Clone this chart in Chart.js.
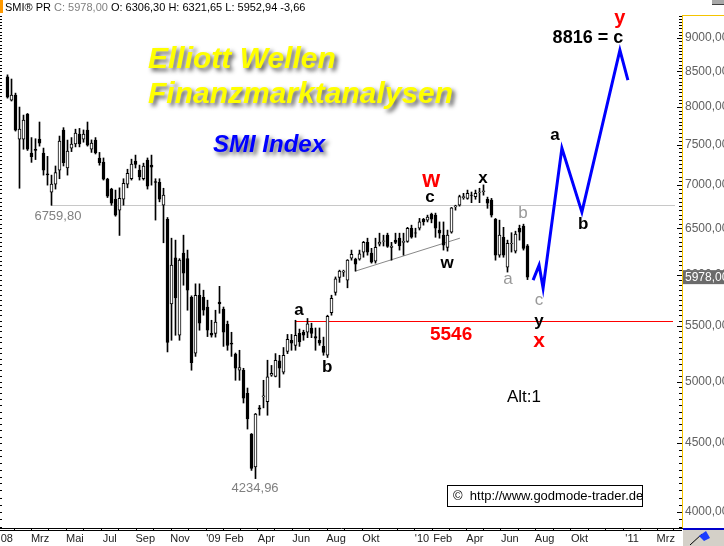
<!DOCTYPE html>
<html>
<head>
<meta charset="utf-8">
<script src="https://cdn.jsdelivr.net/npm/chart.js@4.4.0/dist/chart.umd.min.js"></script>
<style>
html, body { margin: 0; padding: 0; background: #fff; }
</style>
</head>
<body>
<canvas id="myChart" width="724" height="546"></canvas>
<script>
// weekly candles, first week ends 2008-01-04
var firstWeek = Date.UTC(2008, 0, 4);
var opens = [8420, 8093, 8163, 7570, 7570, 7900, 7390, 7440, 7570, 7390, 7135, 6913, 7009, 7179, 7688, 7205, 7455, 7507, 7635, 7570,
    7688, 7440, 7558, 7330, 7280, 7070, 6950, 6830, 6704, 6830, 7009, 7074, 7290, 7179, 7074, 7303, 7240, 7040, 7030, 6761,
    6600, 5710, 6180, 5412, 6230, 6170, 5775, 5250, 5796, 5775, 5680, 5430, 5430, 5728, 5660, 5515, 5340, 5240, 5098, 5098,
    4900, 4570, 4320, 4780, 4870, 4830, 5055, 5045, 5180, 5080, 5265, 5366, 5320, 5430, 5440, 5440, 5480, 5400, 5366, 5310,
    5230, 5625, 5825, 5975, 6030, 5947, 6175, 6165, 6165, 6240, 6345, 6230, 6143, 6325, 6355, 6423, 6290, 6369, 6390, 6345,
    6355, 6500, 6450, 6500, 6600, 6590, 6660, 6647, 6480, 6423, 6290, 6455, 6740, 6761, 6850, 6840, 6880, 6860, 6910, 6920,
    6830, 6820, 6600, 6207, 6400, 6080, 6330, 6250, 6500, 6525, 6306.30];
var highs = [8450, 8390, 8190, 7997, 7888, 7910, 7590, 7575, 7795, 7455, 7350, 7118, 7230, 7610, 7720, 7558, 7590, 7700, 7710, 7690,
    7795, 7560, 7590, 7400, 7330, 7080, 6960, 6938, 6965, 7074, 7190, 7315, 7366, 7241, 7265, 7330, 7366, 7074, 7074, 6960,
    6620, 6390, 6369, 6170, 6423, 6261, 5790, 5910, 5910, 5846, 5747, 5553, 5649, 5885, 5680, 5545, 5440, 5250, 5275, 5115,
    4945, 4575, 4735, 4800, 5011, 5186, 5140, 5245, 5230, 5300, 5420, 5420, 5553, 5470, 5459, 5570, 5525, 5480, 5480, 5395,
    5601, 5796, 5980, 6050, 6050, 6160, 6261, 6175, 6261, 6355, 6390, 6280, 6390, 6445, 6423, 6445, 6345, 6445, 6445, 6445,
    6510, 6534, 6500, 6610, 6610, 6647, 6670, 6670, 6570, 6570, 6479, 6735, 6761, 6878, 6900, 6938, 6915, 6938, 6960, 7000,
    6855, 6840, 6610, 6590, 6510, 6369, 6450, 6467, 6534, 6545, 6321.65];
var lows = [8120, 8080, 7675, 6960, 7440, 7425, 7275, 7310, 7480, 7118, 6997, 6760, 6950, 7074, 7230, 7118, 7410, 7470, 7470, 7530,
    7480, 7400, 7380, 7240, 7058, 6850, 6760, 6635, 6420, 6761, 6965, 7058, 7205, 7058, 7058, 6950, 6997, 6591, 6800, 6340,
    5260, 5366, 5412, 5366, 5896, 5649, 5098, 5220, 5459, 5601, 5400, 5395, 5395, 5620, 5310, 5275, 5220, 5011, 5011, 4820,
    4610, 4295, 4235, 4720, 4780, 4720, 5045, 5040, 4950, 5065, 5245, 5275, 5275, 5310, 5366, 5390, 5390, 5275, 5320, 5230,
    5210, 5601, 5796, 5925, 5985, 5870, 6154, 6040, 6154, 6185, 6207, 6123, 6123, 6305, 6305, 6290, 6154, 6330, 6261, 6207,
    6345, 6390, 6400, 6480, 6534, 6570, 6560, 6400, 6390, 6261, 6250, 6445, 6704, 6750, 6830, 6830, 6790, 6830, 6790, 6878,
    6725, 6625, 6154, 6185, 6185, 6030, 6240, 6230, 6369, 6261, 5952.94];
var closes = [8135, 8163, 7688, 7700, 7821, 7440, 7347, 7425, 7518, 7179, 7120, 7009, 7150, 7545, 7272, 7416, 7505, 7650, 7507, 7635,
    7493, 7520, 7392, 7270, 7070, 6865, 6785, 6647, 6840, 7020, 7140, 7255, 7250, 7095, 7230, 6985, 7215, 7030, 6830, 6878,
    5347, 6102, 5770, 6154, 6020, 5846, 5165, 5796, 5525, 5649, 5459, 5412, 5535, 5710, 5440, 5320, 5330, 5115, 5120, 4860,
    4690, 4310, 4730, 4770, 4880, 5040, 5070, 5186, 5115, 5230, 5375, 5340, 5412, 5350, 5412, 5520, 5430, 5385, 5340, 5255,
    5590, 5765, 5960, 6040, 6040, 6154, 6215, 6112, 6220, 6345, 6240, 6133, 6290, 6347, 6360, 6300, 6305, 6345, 6305, 6355,
    6500, 6400, 6445, 6570, 6570, 6625, 6600, 6500, 6445, 6314, 6423, 6730, 6755, 6860, 6860, 6900, 6875, 6900, 6915, 6930,
    6785, 6647, 6207, 6423, 6207, 6335, 6335, 6434, 6455, 6280, 5978.00];

// elliott projection (blue), support line, horizontal levels
var projX = [131.4, 132.9, 133.9, 138.6, 143.6, 153.1, 155.1];
var projY = [5947, 6101, 5866, 7455, 6681, 8816, 8375];
var supportX = [86.9, 113.1];
var supportY = [6039, 6390];
var lowLevel = 6759.80;
var lowLevelX = [10.9, 166.9];
var targetLevel = 5546;
var targetLevelX = [71.9, 166.4];

// axis ticks
var tickMonths = ['2008-01', '2008-02', '2008-03', '2008-04', '2008-05', '2008-06', '2008-07', '2008-08', '2008-09', '2008-10', '2008-11', '2008-12',
    '2009-01', '2009-02', '2009-03', '2009-04', '2009-05', '2009-06', '2009-07', '2009-08', '2009-09', '2009-10', '2009-11', '2009-12',
    '2010-01', '2010-02', '2010-03', '2010-04', '2010-05', '2010-06', '2010-07', '2010-08', '2010-09', '2010-10', '2010-11', '2010-12',
    '2011-01', '2011-02', '2011-03'];
var tickLabels = ["'08", '', 'Mrz', '', 'Mai', '', 'Jul', '', 'Sep', '', 'Nov', '',
    "'09 ", ' Feb', '', 'Apr', '', 'Jun', '', 'Aug', '', 'Okt', '', '',
    "'10 ", ' Feb', '', 'Apr', '', 'Jun', '', 'Aug', '', 'Okt', '', '',
    "'11", '', 'Mrz'];
var yTickValues = [4000, 4500, 5000, 5500, 6000, 6500, 7000, 7500, 8000, 8500, 9000];
var lastPrice = 5978.00;

var FONT = "'Liberation Sans', Arial, sans-serif";

// wave labels (x in weeks, y in index points)
var waveLabels = [
    { t: 'w', x: 105.9, v: 7045, c: '#ff0000', f: 'bold 23px' },
    { t: 'c', x: 105.6, v: 6855, c: '#000', f: 'bold 17px' },
    { t: 'x', x: 118.9, v: 7082, c: '#000', f: 'bold 17px' },
    { t: 'b', x: 128.9, v: 6670, c: '#999', f: '17px' },
    { t: 'a', x: 125.1, v: 5957, c: '#999', f: '17px' },
    { t: 'c', x: 132.9, v: 5747, c: '#999', f: '17px' },
    { t: 'y', x: 132.9, v: 5543, c: '#000', f: 'bold 17px' },
    { t: 'x', x: 132.9, v: 5357, c: '#ff0000', f: 'bold 21px' },
    { t: '5546', x: 110.9, v: 5420, c: '#ff0000', f: 'bold 19px' },
    { t: 'a', x: 72.9, v: 5649, c: '#000', f: 'bold 17px' },
    { t: 'b', x: 79.9, v: 5120, c: '#000', f: 'bold 17px' },
    { t: 'w', x: 109.9, v: 6122, c: '#000', f: 'bold 17px' },
    { t: 'a', x: 136.9, v: 7623, c: '#000', f: 'bold 17px' },
    { t: 'b', x: 143.9, v: 6545, c: '#000', f: 'bold 17px' },
    { t: '8816 = c', x: 145.1, v: 9000, c: '#000', f: 'bold 18px' },
    { t: 'y', x: 153.1, v: 9313, c: '#ff0000', f: 'bold 20px' },
    { t: 'Alt:1', x: 129.1, v: 4867, c: '#000', f: '17px' },
    { t: '4234,96', x: 61.9, v: 4165, c: '#808080', f: '13px' },
    { t: '6759,80', x: 12.6, v: 6636, c: '#808080', f: '13px' }
];

function weekPos(ym) {
    var p = ym.split('-');
    return (Date.UTC(+p[0], +p[1] - 1, 1) - firstWeek) / (7 * 86400000);
}
function fmt(v) {
    return v.toFixed(2).replace('.', ',');
}

var wickData = [], bodyData = [], bodyColor = [];
for (var i = 0; i < opens.length; i++) {
    wickData.push({ x: i, y: [lows[i], highs[i]] });
    bodyData.push({ x: i, y: [opens[i], closes[i]] });
    bodyColor.push(closes[i] >= opens[i] ? '#ffffff' : '#000000');
}
function pts(xs, ys) {
    return xs.map(function (x, k) { return { x: x, y: ys[k] }; });
}

var overlay = {
    id: 'overlay',
    beforeDraw: function (chart) {
        var ctx = chart.ctx;
        ctx.save();
        ctx.fillStyle = '#fff';
        ctx.fillRect(0, 0, chart.width, chart.height);
        ctx.restore();
    },
    beforeDatasetsDraw: function (chart) {
        // horizontal levels, snapped to whole pixels
        var ctx = chart.ctx, xs = chart.scales.x, ys = chart.scales.y;
        var levels = [[lowLevel, lowLevelX, '#c8c8c8'], [targetLevel, targetLevelX, '#ff0000']];
        levels.forEach(function (l) {
            var py = Math.round(ys.getPixelForValue(l[0]));
            var x0 = Math.round(xs.getPixelForValue(l[1][0]));
            var x1 = Math.round(xs.getPixelForValue(l[1][1]));
            ctx.save();
            ctx.fillStyle = l[2];
            ctx.fillRect(x0, py, x1 - x0, 1);
            ctx.restore();
        });
    },
    afterDraw: function (chart) {
        var ctx = chart.ctx, xs = chart.scales.x, ys = chart.scales.y, a = chart.chartArea;
        ctx.save();

        // header
        ctx.fillStyle = '#ff9900';
        ctx.fillRect(0, 0, 3, 13);
        ctx.font = '11px ' + FONT;
        ctx.textBaseline = 'alphabetic';
        var hx = 5;
        var parts = [['SMI\u00AE PR ', '#000'], ['C: 5978,00', '#808080'], [' O: 6306,30 H: 6321,65 L: 5952,94 -3,66', '#000']];
        parts.forEach(function (p) {
            ctx.fillStyle = p[1];
            ctx.fillText(p[0], hx, 11);
            hx += ctx.measureText(p[0]).width;
        });

        // price-axis ticks, every 50 points
        ctx.fillStyle = '#000';
        for (var v = 3900; v <= 9350; v += 50) {
            var py = Math.round(ys.getPixelForValue(v));
            if (py < a.top || py > a.bottom) continue;
            var len = v % 500 === 0 ? 5 : 3;
            ctx.fillRect(a.right - len, py, len, 1);
            ctx.fillRect(0, py, 2, 1);
        }
        // axis frame
        ctx.fillStyle = '#f5c400';
        ctx.fillRect(a.right, a.top, 1, a.bottom - a.top);
        ctx.fillRect(a.right, a.top, chart.width - a.right, 1);
        ctx.fillStyle = '#000';
        ctx.fillRect(0, a.bottom + 2, a.right, 1);

        // last price tag
        var ly = ys.getPixelForValue(lastPrice);
        ctx.fillStyle = '#6b6b6b';
        ctx.fillRect(a.right + 1, ly - 7, chart.width - a.right, 14);
        ctx.fillStyle = '#fff';
        ctx.font = '12px ' + FONT;
        ctx.textBaseline = 'middle';
        ctx.fillText(fmt(lastPrice), a.right + 3, ly + 1);

        // corner widgets
        ctx.fillStyle = '#d4d0c8';
        ctx.fillRect(a.right + 1, a.bottom + 1, chart.width - a.right, chart.height - a.bottom);
        ctx.fillStyle = '#0000cc';
        ctx.fillRect(a.right + 1, a.bottom, chart.width - a.right, 2);
        ctx.strokeStyle = '#000';
        ctx.lineWidth = 1;
        ctx.beginPath();
        ctx.moveTo(a.right + 8, chart.height - 1);
        ctx.lineTo(a.right + 20, chart.height - 12);
        ctx.stroke();
        ctx.fillStyle = '#1a3cff';
        ctx.beginPath();
        ctx.moveTo(a.right + 17, chart.height - 10);
        ctx.lineTo(a.right + 24, chart.height - 15);
        ctx.lineTo(a.right + 28, chart.height - 8);
        ctx.lineTo(a.right + 22, chart.height - 5);
        ctx.closePath();
        ctx.fill();
        ctx.fillStyle = '#a8a8a8';
        ctx.fillRect(chart.width - 12, 0, 12, 4);
        ctx.fillStyle = '#404040';
        ctx.fillRect(chart.width - 12, 4, 12, 1);

        // titles
        ctx.textBaseline = 'alphabetic';
        ctx.textAlign = 'left';
        ctx.shadowColor = 'rgba(40,40,40,0.75)';
        ctx.shadowBlur = 4;
        ctx.shadowOffsetX = 3;
        ctx.shadowOffsetY = 3;
        ctx.font = 'italic bold 30px ' + FONT;
        ctx.fillStyle = '#ffff00';
        ctx.fillText('Elliott Wellen', 148, 68);
        ctx.fillText('Finanzmarktanalysen', 148, 103);
        ctx.font = 'italic bold 24px ' + FONT;
        ctx.fillStyle = '#0000ff';
        ctx.fillText('SMI Index', 213, 152);
        ctx.shadowColor = 'transparent';
        ctx.shadowBlur = 0;
        ctx.shadowOffsetX = 0;
        ctx.shadowOffsetY = 0;

        // wave labels
        ctx.textAlign = 'center';
        ctx.textBaseline = 'middle';
        waveLabels.forEach(function (l) {
            ctx.font = l.f + ' ' + FONT;
            ctx.fillStyle = l.c;
            ctx.fillText(l.t, xs.getPixelForValue(l.x), ys.getPixelForValue(l.v));
        });

        // source box
        ctx.fillStyle = '#fff';
        ctx.fillRect(447, 485, 195, 21);
        ctx.strokeStyle = '#000';
        ctx.strokeRect(447.5, 485.5, 195, 21);
        ctx.fillStyle = '#000';
        ctx.font = '13px ' + FONT;
        ctx.textAlign = 'left';
        ctx.fillText('\u00A9  http://www.godmode-trader.de', 453, 496);
        ctx.restore();
    }
};

var ctx = document.getElementById('myChart').getContext('2d');
var myChart = new Chart(ctx, {
    type: 'bar',
    data: {
        datasets: [
            {
                type: 'line', data: pts(projX, projY), borderColor: '#0000ff', borderWidth: 3,
                pointRadius: 0, fill: false, tension: 0, order: 0
            },
            {
                type: 'bar', data: bodyData, backgroundColor: bodyColor, borderColor: '#000', borderWidth: 1,
                borderSkipped: false, barThickness: 3, grouped: false, order: 1
            },
            {
                type: 'bar', data: wickData, backgroundColor: '#000', borderWidth: 0,
                barThickness: 1, grouped: false, order: 2
            },
            {
                type: 'line', data: pts(supportX, supportY), borderColor: '#888', borderWidth: 1,
                pointRadius: 0, fill: false, order: 3
            }
        ]
    },
    options: {
        responsive: false,
        animation: false,
        devicePixelRatio: 1,
        layout: { padding: { top: 15, left: 0, right: 0, bottom: 0 } },
        plugins: {
            legend: { display: false },
            tooltip: { enabled: false },
            title: { display: false }
        },
        scales: {
            x: {
                type: 'linear',
                min: -1.875,
                max: 168.625,
                offset: false,
                afterBuildTicks: function (s) {
                    s.ticks = tickMonths.map(function (m) { return { value: weekPos(m) }; });
                },
                afterFit: function (s) {
                    s.height = 18;
                    s.paddingLeft = 0;
                    s.paddingRight = 0;
                },
                ticks: {
                    autoSkip: false,
                    maxRotation: 0,
                    minRotation: 0,
                    padding: 1,
                    color: '#222',
                    font: { family: FONT, size: 11 },
                    callback: function (value, index) { return tickLabels[index]; }
                },
                grid: { drawOnChartArea: false, drawTicks: true, tickLength: 3, color: '#000' },
                border: { display: true, color: '#000', width: 1 }
            },
            y: {
                type: 'logarithmic',
                position: 'right',
                min: 3892,
                max: 9361,
                afterBuildTicks: function (s) {
                    s.ticks = yTickValues.map(function (v) { return { value: v }; });
                },
                afterFit: function (s) {
                    s.width = 42;
                    s.paddingTop = 0;
                    s.paddingBottom = 0;
                },
                ticks: {
                    autoSkip: false,
                    padding: 3,
                    color: '#606060',
                    font: { family: FONT, size: 12 },
                    callback: function (value) { return fmt(value); }
                },
                grid: { display: false, drawTicks: false },
                border: { display: false }
            }
        }
    },
    plugins: [overlay]
});
</script>
</body>
</html>
